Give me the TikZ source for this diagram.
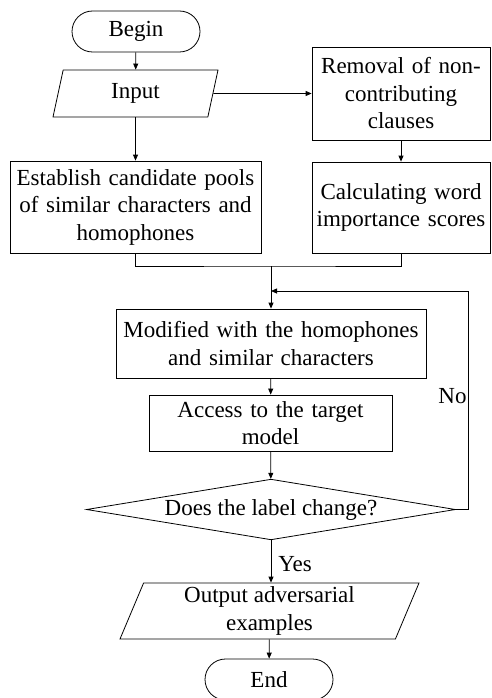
\documentclass[tikz,border=0pt]{standalone}
\usepackage{fontspec}
\setmainfont{Liberation Serif}
\usetikzlibrary{shapes.geometric,shapes.misc,arrows.meta}

\tikzstyle{term}=[rounded rectangle, draw, minimum width=128pt, minimum height=41pt, inner sep=0pt]
\tikzstyle{io}=[trapezium, trapezium stretches body, draw, inner sep=0pt, align=center]
\tikzstyle{proc}=[rectangle, draw, inner sep=0pt, align=center]
\tikzstyle{decide}=[diamond, draw, inner sep=0pt, aspect=5.35, minimum width=369pt]
\tikzstyle{flow}=[-{Triangle[length=6pt,width=5pt]}]

\begin{document}
\begin{tikzpicture}[x=1pt, y=-1pt, line width=0.8pt, font=\fontsize{23}{27.5}\selectfont]
	\useasboundingbox (0,0) rectangle (491,698);

	% Left branch
	\node[term] (begin) at (136,31.5) {Begin};
	\node[io, trapezium left angle=63, trapezium right angle=117, minimum width=165pt, minimum height=47pt] (input) at (135.5,93.5) {Input};
	\node[proc, minimum width=251pt, minimum height=92pt, text width=247pt] (pools) at (135.5,207) {Establish candidate pools\\of similar characters and\\homophones};

	% Right branch
	\node[proc, minimum width=178pt, minimum height=93pt, text width=174pt] (removal) at (401,93.5) {Removal of non-\\contributing\\clauses};
	\node[proc, minimum width=178pt, minimum height=91pt, text width=174pt] (scores) at (401,207.5) {Calculating word\\importance scores};

	% Main loop
	\node[proc, minimum width=310pt, minimum height=69pt, text width=306pt] (modify) at (271,343.5) {Modified with the homophones\\and similar characters};
	\node[proc, minimum width=243pt, minimum height=56pt, text width=239pt] (access) at (270.5,423) {Access to the target\\model};
	\node[decide] (change) at (271,509.5) {Does the label change?};
	\node[io, trapezium left angle=64, trapezium right angle=116, minimum width=299pt, minimum height=56pt] (output) at (269.5,611) {Output adversarial\\examples};
	\node[term] (end) at (269,679.5) {End};

	\coordinate (merge) at (271,266);
	\coordinate (joint) at (271,291);
	\coordinate (loop) at (468,291);

	\draw[flow] (begin) -- (input);
	\draw[flow] (input.east) -- (removal.west);
	\draw[flow] (input.south) -- (input.south |- pools.north);
	\draw[flow] (removal) -- (scores);
	\draw (pools.south) |- (merge) -| (scores.south);
	\draw[flow] (merge) -- (modify.north);
	\draw[flow] (modify) -- (access);
	\draw[flow] (access) -- (change);
	\draw[flow] (change.east) -| (loop) -- (joint);
	\draw[flow] (change.south) -- (change.south |- output.north);
	\draw[flow] (output) -- (end);

	\node[anchor=east, inner sep=1pt] (no) at (468,396) {No};
	\node[anchor=west, inner sep=1pt] (yes) at (277,564) {Yes};
\end{tikzpicture}
\end{document}
